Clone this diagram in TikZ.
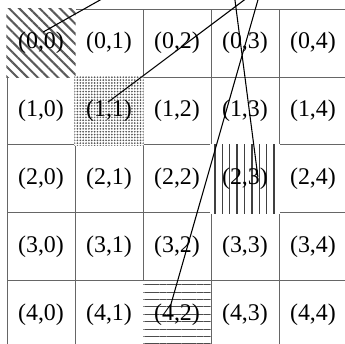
\documentclass[tikz,border=0pt]{standalone}
\usepackage{fontspec}
\setmainfont{Liberation Serif}
\usetikzlibrary{patterns.meta}
\definecolor{GGrid}{HTML}{666666}
\definecolor{GHatch}{HTML}{5A5A5A}
\definecolor{GDots}{HTML}{555555}

\begin{document}
\begin{tikzpicture}[
  x=1cm,y=1cm,
  every node/.style={font=\fontsize{10}{12}\selectfont},
  cell/.style={minimum size=1cm,inner sep=0pt},
  cover/.style={minimum size=1cm+0.6pt,preaction={fill=white}},
  hatched/.style={cover,pattern={Lines[angle=-45,distance=3pt,line width=0.85pt]},
    pattern color=GHatch},
  speckled/.style={cover,pattern={Dots[distance=1.2pt,radius=0.4pt]},
    pattern color=GDots},
  striped/.style={cover,pattern={Lines[angle=90,distance=3.1pt,line width=0.6pt]},
    pattern color=black!75},
  ruled/.style={minimum size=1cm-0.4pt,preaction={fill=white},
    pattern={Lines[angle=0,distance=3.1pt,line width=0.45pt]},pattern color=black!70},
  kind00/.style={hatched},
  kind11/.style={speckled},
  kind23/.style={striped},
  kind42/.style={ruled},
  gridline/.style={GGrid,line width=0.4pt},
  wire/.style={black,line width=0.45pt}
]
  \useasboundingbox (-0.103,-4.926) rectangle (4.971,0.132);
  \clip (-0.103,-4.926) rectangle (4.971,0.132);

  % cell borders
  \draw[gridline] (0,0) grid (5,-5);

  % cells, row r and column c
  \foreach \r in {0,...,4}
    \foreach \c in {0,...,4}
      \node[cell,kind\r\c/.try] (c\r\c) at (\c+0.5,-\r-0.5) {(\r,\c)};

  % lines leaving the top
  \coordinate (e00) at (2.676,0.868);
  \coordinate (e11) at (4.470,0.868);
  \coordinate (e23) at (3.257,0.868);
  \coordinate (e42) at (3.901,0.868);

  \draw[wire] ([shift={(0.03,0.16)}]c00.center) -- (e00);
  \draw[wire] ([shift={(-0.015,0.13)}]c11.center) -- (e11);
  \draw[wire] ([shift={(0.19,0.03)}]c23.center) -- (e23);
  \draw[wire] ([shift={(-0.10,0.12)}]c42.center) -- (e42);
\end{tikzpicture}
\end{document}
